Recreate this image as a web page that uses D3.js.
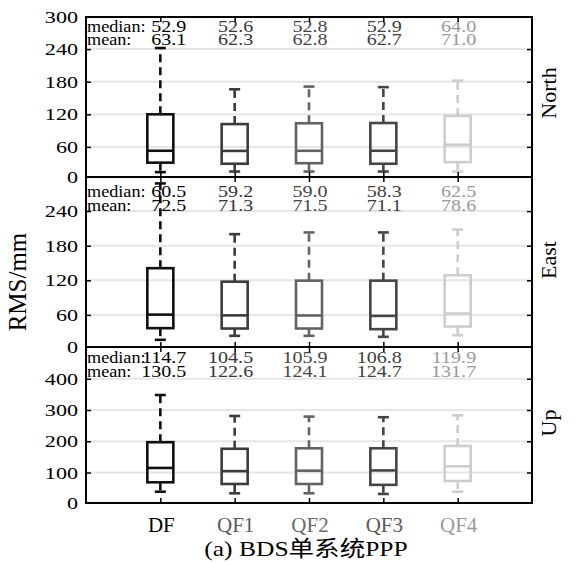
<!DOCTYPE html>
<html>
<head>
<meta charset="utf-8">
<script src="https://cdn.jsdelivr.net/npm/d3@7"></script>
<style>
  html, body { margin: 0; padding: 0; background: #fff; }
  svg { display: block; }
  text { font-family: "Liberation Serif", "Times New Roman", "Noto Sans CJK SC", serif; }
</style>
</head>
<body>
<svg id="chart" width="575" height="562"></svg>
<script>
// ---------- data ----------
const categories = ["DF", "QF1", "QF2", "QF3", "QF4"];
const components = ["North", "East", "Up"];

const northWhiskerHigh = [242, 166, 171, 170, 182];
const northQ3          = [120, 102, 103.5, 104, 117];
const northMedian      = [52.9, 52.6, 52.8, 52.9, 64.0];
const northQ1          = [31, 29, 30, 29, 32];
const northWhiskerLow  = [13.6, 14.7, 14.7, 14.7, 14.7];
const northMean        = [63.1, 62.3, 62.8, 62.7, 71.0];

const eastWhiskerHigh = [288, 200, 203, 203, 208];
const eastQ3          = [141, 117.6, 119.4, 119.4, 128.7];
const eastMedian      = [60.5, 59.2, 59.0, 58.3, 62.5];
const eastQ1          = [37, 36.4, 36.4, 35.3, 39.8];
const eastWhiskerLow  = [16.8, 23.7, 23.7, 22, 24.9];
const eastMean        = [72.5, 71.3, 71.5, 71.1, 78.6];

const upWhiskerHigh = [348, 281, 279, 277, 283];
const upQ3          = [197, 176, 177.6, 177.6, 185];
const upMedian      = [114.7, 104.5, 105.9, 106.8, 119.9];
const upQ1          = [68.8, 63.4, 63.4, 60.6, 73];
const upWhiskerLow  = [38.7, 33.6, 33.6, 31.5, 38.7];
const upMean        = [130.5, 122.6, 124.1, 124.7, 131.7];

const northTicks = [0, 60, 120, 180, 240, 300];
const eastTicks  = [0, 60, 120, 180, 240, 300];
const upTicks    = [0, 100, 200, 300, 400];
const northDomain = [0, 300];
const eastDomain  = [0, 300];
const upDomain    = [0, 500];

const yAxisTitle = "RMS/mm";
const chartTitle = "(a) BDS单系统PPP";

// ---------- styling ----------
const boxColors   = ["#111111", "#3c3c3c", "#636363", "#454545", "#cdcdcd"];
const annoColors  = ["#000000", "#353535", "#454545", "#404040", "#9a9a9a"];
const labelColors = ["#000000", "#5a5a5a", "#6a6a6a", "#5a5a5a", "#9a9a9a"];

const left = 86, right = 532;
const panels = [
  { name: components[0], top: 17,  bottom: 177, range: [179.5, 16.5], domain: northDomain, ticks: northTicks,
    hi: northWhiskerHigh, q3: northQ3, med: northMedian, q1: northQ1, lo: northWhiskerLow, mean: northMean,
    rows: [31.5, 45], showTop: true, labelY: 93 },
  { name: components[1], top: 177, bottom: 347, range: [349.5, 176.5], domain: eastDomain, ticks: eastTicks,
    hi: eastWhiskerHigh, q3: eastQ3, med: eastMedian, q1: eastQ1, lo: eastWhiskerLow, mean: eastMean,
    rows: [197, 210.5], showTop: false, labelY: 260 },
  { name: components[2], top: 347, bottom: 503, range: [503.8, 347.5], domain: upDomain, ticks: upTicks,
    hi: upWhiskerHigh, q3: upQ3, med: upMedian, q1: upQ1, lo: upWhiskerLow, mean: upMean,
    rows: [363, 377], showTop: true, labelY: 423 }
];

const svg = d3.select("#chart");
const x = d3.scalePoint().domain(categories).range([left, right]).padding(1);

function stext(g, px, py, str, o) {
  return g.append("text")
    .attr("transform", `translate(${px},${py}) scale(${o.sx || 1},1)` + (o.rot ? ` rotate(${o.rot})` : ""))
    .attr("text-anchor", o.anchor || "start")
    .attr("font-size", o.size)
    .attr("fill", o.fill || "#000")
    .text(str);
}

const defs = svg.append("defs");
panels.forEach((p, pi) => {
  const y = d3.scaleLinear().domain(p.domain).range(p.range);
  const clipId = "clip" + pi;
  defs.append("clipPath").attr("id", clipId)
    .append("rect").attr("x", left).attr("y", p.top).attr("width", right - left).attr("height", p.bottom - p.top);
  const g = svg.append("g").attr("clip-path", `url(#${clipId})`);

  // grid lines
  g.selectAll("line.grid").data(p.ticks.filter(t => t > 0)).enter().append("line")
    .attr("x1", left).attr("x2", right)
    .attr("y1", d => y(d)).attr("y2", d => y(d))
    .attr("stroke", "#e6e6e6").attr("stroke-width", 2);

  // annotations
  categories.forEach((c, i) => {
    const cx = x(c);
    const endX = i === 0 ? cx + 26 : cx + 18.5;
    stext(g, endX, p.rows[0], p.med[i].toFixed(1), { size: 17, sx: 1.18, anchor: "end", fill: annoColors[i] });
    stext(g, endX, p.rows[1], p.mean[i].toFixed(1), { size: 17, sx: 1.18, anchor: "end", fill: annoColors[i] });
  });
  stext(g, left + 1, p.rows[0], "median:", { size: 17, sx: 1.07, fill: annoColors[0] });
  stext(g, left + 1, p.rows[1], "mean:", { size: 17, sx: 1.07, fill: annoColors[0] });

  // boxes
  const bw = 26, cap = 11;
  categories.forEach((c, i) => {
    const cx = x(c), col = boxColors[i];
    const bg = g.append("g").attr("stroke", col).attr("stroke-width", 2.6).attr("fill", "none");
    bg.append("line").attr("x1", cx).attr("x2", cx).attr("y1", y(p.q3[i])).attr("y2", y(p.hi[i]))
      .attr("stroke-dasharray", "8,5");
    bg.append("line").attr("x1", cx).attr("x2", cx).attr("y1", y(p.q1[i])).attr("y2", y(p.lo[i]))
      .attr("stroke-dasharray", "8,5");
    bg.append("line").attr("x1", cx - cap / 2).attr("x2", cx + cap / 2).attr("y1", y(p.hi[i])).attr("y2", y(p.hi[i]));
    bg.append("line").attr("x1", cx - cap / 2).attr("x2", cx + cap / 2).attr("y1", y(p.lo[i])).attr("y2", y(p.lo[i]));
    bg.append("rect").attr("x", cx - bw / 2).attr("width", bw)
      .attr("y", y(p.q3[i])).attr("height", y(p.q1[i]) - y(p.q3[i]));
    bg.append("line").attr("x1", cx - bw / 2).attr("x2", cx + bw / 2).attr("y1", y(p.med[i])).attr("y2", y(p.med[i]));
  });

  // axes (inward ticks)
  const tickVals = p.ticks.filter(t => y(t) > p.top + 1 && y(t) < p.bottom - 1);
  svg.append("g").attr("transform", `translate(${left},0)`)
    .call(d3.axisRight(y).tickValues(tickVals).tickSize(5).tickFormat(""))
    .call(a => a.select(".domain").remove())
    .selectAll("line").attr("stroke", "#000").attr("stroke-width", 1.5);
  svg.append("g").attr("transform", `translate(${right},0)`)
    .call(d3.axisLeft(y).tickValues(tickVals).tickSize(5).tickFormat(""))
    .call(a => a.select(".domain").remove())
    .selectAll("line").attr("stroke", "#000").attr("stroke-width", 1.5);
  svg.append("g").attr("transform", `translate(0,${p.top})`)
    .call(d3.axisBottom(x).tickSize(5).tickFormat(""))
    .call(a => a.select(".domain").remove())
    .selectAll("line").attr("stroke", "#000").attr("stroke-width", 1.5);
  svg.append("g").attr("transform", `translate(0,${p.bottom})`)
    .call(d3.axisTop(x).tickSize(5).tickFormat(""))
    .call(a => a.select(".domain").remove())
    .selectAll("line").attr("stroke", "#000").attr("stroke-width", 1.5);

  // tick labels
  p.ticks.forEach(t => {
    if (!p.showTop && t === p.domain[1]) return;
    const ty = Math.min(Math.max(y(t), p.top), p.bottom);
    stext(svg, 78, ty + 6, String(t), { size: 17, sx: 1.3, anchor: "end" });
  });

  // panel label on right
  stext(svg, 556, p.labelY, p.name, { size: 22, rot: -90, anchor: "middle" });
});

// frame
svg.append("rect").attr("x", left).attr("y", 17).attr("width", right - left).attr("height", 503 - 17)
  .attr("fill", "none").attr("stroke", "#000").attr("stroke-width", 2);
[177, 347].forEach(v => svg.append("line").attr("x1", left).attr("x2", right).attr("y1", v).attr("y2", v)
  .attr("stroke", "#000").attr("stroke-width", 2));

// x labels
categories.forEach((c, i) => {
  stext(svg, x(c) + 1, 532, c, { size: 20, sx: 1.05, anchor: "middle", fill: labelColors[i] });
});

// y axis title
stext(svg, 26, 282, yAxisTitle, { size: 25, rot: -90, anchor: "middle" });

// chart title
stext(svg, 306, 556, chartTitle, { size: 22, sx: 1.16, anchor: "middle" });
</script>
</body>
</html>
